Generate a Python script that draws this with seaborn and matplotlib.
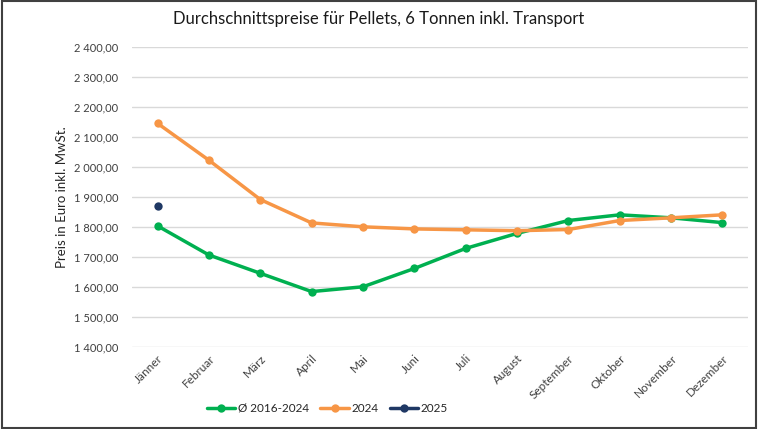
import pandas as pd
import matplotlib.pyplot as plt
import matplotlib.ticker as mticker
import seaborn as sns
from matplotlib.patches import Rectangle

# === Data ===
months = ["Jänner", "Februar", "März", "April", "Mai", "Juni", "Juli",
          "August", "September", "Oktober", "November", "Dezember"]
avg_2016_2024 = [1804, 1707, 1646, 1585, 1601, 1662, 1729, 1779, 1822, 1841, 1831, 1815]
prices_2024 = [2146, 2023, 1892, 1814, 1801, 1794, 1791, 1788, 1792, 1822, 1831, 1841]
prices_2025 = [1869]

series_names = ["Ø 2016-2024", "2024", "2025"]
colors = ["#00B050", "#F79646", "#1F3864"]

df = pd.DataFrame({
    "Monat": months * 2 + months[:len(prices_2025)],
    "Preis": avg_2016_2024 + prices_2024 + prices_2025,
    "Serie": [series_names[0]] * 12 + [series_names[1]] * 12 + [series_names[2]] * len(prices_2025),
})
df["Monat"] = pd.Categorical(df["Monat"], categories=months, ordered=True)
df["x"] = df["Monat"].cat.codes

sns.set_style("white")
plt.rcParams["font.family"] = ["Lato", "DejaVu Sans"]

fig = plt.figure(figsize=(7.58, 4.29), dpi=100)
ax = fig.add_axes([0.174, 0.191, 0.813, 0.699])

sns.lineplot(data=df, x="x", y="Preis", hue="Serie", hue_order=series_names,
             palette=colors, marker="o", markersize=6, markeredgewidth=0,
             linewidth=2.5, ax=ax, legend=True)

ax.set_xlim(-0.5, 11.5)
ax.set_ylim(1400, 2400)
ax.set_xticks(range(12))
ax.set_xticklabels(months, rotation=45, ha="right", rotation_mode="anchor",
                   fontsize=8.5, color="#404040")
ax.yaxis.set_major_locator(mticker.MultipleLocator(100))
ax.yaxis.set_major_formatter(mticker.FuncFormatter(
    lambda v, p: f"{v:,.2f}".replace(",", " ").replace(".", ",")))
ax.tick_params(axis="y", labelsize=8, labelcolor="#404040", length=0, pad=10)
ax.tick_params(axis="x", length=0, pad=4)
ax.grid(axis="y", color="#D9D9D9", linewidth=1)
ax.set_axisbelow(True)
for s in ax.spines.values():
    s.set_visible(False)

ax.set_xlabel("")
ax.set_ylabel("Preis in Euro inkl. MwSt.", fontsize=9.5, color="#262626")
ax.yaxis.set_label_coords(-0.104, 0.5)

fig.suptitle("Durchschnittspreise für Pellets, 6 Tonnen inkl. Transport",
             x=0.5, y=0.975, fontsize=12, color="#1a1a1a")

handles, labels = ax.get_legend_handles_labels()
ax.legend(handles, labels, loc="center", bbox_to_anchor=(0.432, 0.048),
          bbox_transform=fig.transFigure, ncol=3, frameon=False, fontsize=8.5,
          handlelength=2.4, columnspacing=1.0, handletextpad=0.2)

fig.patches.append(Rectangle((0.002, 0.003), 0.996, 0.994, transform=fig.transFigure,
                             fill=False, edgecolor="#404040", linewidth=1.5))

fig.savefig("out.png", dpi=100)
